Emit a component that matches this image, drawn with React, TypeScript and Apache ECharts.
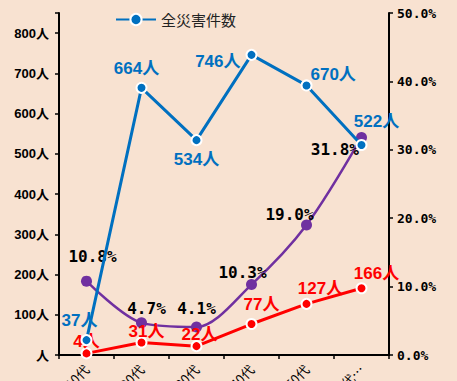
import React, { useEffect, useRef } from "react";
import * as echarts from "echarts";

const categories = ["10代", "20代", "30代", "40代", "50代", "60代以上"];
const totalCases = [37, 664, 534, 746, 670, 522];
const elderCases = [4, 31, 22, 77, 127, 166];
const elderShare = [10.8, 4.7, 4.1, 10.3, 19.0, 31.8];
const leftTicks = [0, 100, 200, 300, 400, 500, 600, 700, 800];

// label placement (layout only)
const totalLabelLayout: [string, number, number][] = [
  ["top", -7, 0],
  ["top", -5, 0],
  ["bottom", 0, 0],
  ["left", 0, 7],
  ["right", -7, -11],
  ["top", 15, -4],
];
const elderLabelLayout: [string, number, number][] = [
  ["top", 0, 8],
  ["top", 5, 8],
  ["top", 3, 8],
  ["top", 10, 0],
  ["top", 14, 4],
  ["top", 15, 5],
];
const shareLabelLayout: [string, number, number][] = [
  ["top", 6, -6],
  ["top", 5, 4],
  ["top", 0, 0],
  ["top", -9, 6],
  ["top", -17, 8],
  ["left", 8, 12],
];

const BLUE = "#0070C0";
const RED = "#FF0000";
const PURPLE = "#7030A0";

export default function App() {
  const ref = useRef<HTMLDivElement>(null);
  useEffect(() => {
    if (!ref.current) return;
    const chart = echarts.init(ref.current, undefined, { renderer: "svg" });
    const mk = (vals: number[], layout: [string, number, number][]) =>
      vals.map((v, i) => ({
        value: v,
        label: { position: layout[i][0] as any, offset: [layout[i][1], layout[i][2]] },
      }));
    chart.setOption({
      animation: false,
      backgroundColor: "#F8E2D1",
      legend: {
        data: ["全災害件数"],
        left: 110,
        top: 7,
        itemWidth: 40,
        itemHeight: 14,
        itemGap: 5,
        textStyle: { fontSize: 15, color: "#222", fontFamily: "Noto Sans CJK JP" },
      },
      grid: { left: 59, right: 68, top: 13, bottom: 26, outerBoundsMode: "none", containLabel: false },
      xAxis: {
        type: "category",
        data: categories,
        boundaryGap: true,
        axisLine: { lineStyle: { color: "#000", width: 2 } },
        axisTick: { show: true, length: 4, inside: false, lineStyle: { color: "#000", width: 1.5 } },
        axisLabel: {
          rotate: 45,
          margin: 12,
          fontSize: 13,
          color: "#000",
          fontFamily: "Noto Sans CJK JP",
          width: 50,
          overflow: "truncate",
          ellipsis: "…",
        },
        splitLine: { show: false },
      },
      yAxis: [
        {
          type: "value",
          min: 0,
          max: 850,
          interval: 100,
          position: "left",
          axisLine: { show: true, lineStyle: { color: "#000", width: 2 } },
          axisTick: { show: true, length: 4, lineStyle: { color: "#000", width: 1.5 } },
          axisLabel: {
            margin: 10,
            fontSize: 13,
            fontWeight: "bold",
            color: "#000",
            fontFamily: "Liberation Sans, Noto Sans CJK JP",
            formatter: (v: number) =>
              leftTicks.includes(v) ? (v === 0 ? "人" : v + "人") : "",
          },
          splitLine: { show: false },
        },
        {
          type: "value",
          min: 0,
          max: 50,
          interval: 10,
          position: "right",
          axisLine: { show: true, lineStyle: { color: "#000", width: 2 } },
          axisTick: { show: true, length: 4, lineStyle: { color: "#000", width: 1.5 } },
          axisLabel: {
            margin: 8,
            fontSize: 13,
            fontWeight: "bold",
            color: "#000",
            fontFamily: "DejaVu Sans Mono",
            formatter: (v: number) => v.toFixed(1) + "%",
          },
          splitLine: { show: false },
        },
      ],
      series: [
        {
          name: "高齢者割合",
          type: "line",
          yAxisIndex: 1,
          data: mk(elderShare, shareLabelLayout),
          smooth: 0.3,
          symbol: "circle",
          symbolSize: 11,
          lineStyle: { color: PURPLE, width: 2.5 },
          itemStyle: { color: PURPLE },
          label: {
            show: true,
            color: "#000",
            fontSize: 16,
            fontWeight: "bold",
            fontFamily: "DejaVu Sans Mono",
            formatter: (p: any) => Number(p.value).toFixed(1) + "%",
          },
          z: 2,
        },
        {
          name: "高齢者件数",
          type: "line",
          yAxisIndex: 0,
          data: mk(elderCases, elderLabelLayout),
          symbol: "circle",
          symbolSize: 10,
          lineStyle: { color: RED, width: 3 },
          itemStyle: { color: RED, borderColor: "#fff", borderWidth: 2 },
          label: {
            show: true,
            color: RED,
            fontSize: 17,
            fontWeight: "bold",
            fontFamily: "Liberation Sans, Noto Sans CJK JP",
            formatter: (p: any) => p.value + "人",
          },
          z: 3,
        },
        {
          name: "全災害件数",
          type: "line",
          yAxisIndex: 0,
          data: mk(totalCases, totalLabelLayout),
          symbol: "circle",
          symbolSize: 10,
          lineStyle: { color: BLUE, width: 3 },
          itemStyle: { color: BLUE, borderColor: "#fff", borderWidth: 2 },
          label: {
            show: true,
            color: BLUE,
            fontSize: 17,
            fontWeight: "bold",
            fontFamily: "Liberation Sans, Noto Sans CJK JP",
            formatter: (p: any) => p.value + "人",
          },
          z: 4,
        },
      ],
    });
    return () => chart.dispose();
  }, []);
  return (
    <div
      ref={ref}
      style={{ position: "fixed", left: 0, top: 0, width: 457, height: 381 }}
    />
  );
}
